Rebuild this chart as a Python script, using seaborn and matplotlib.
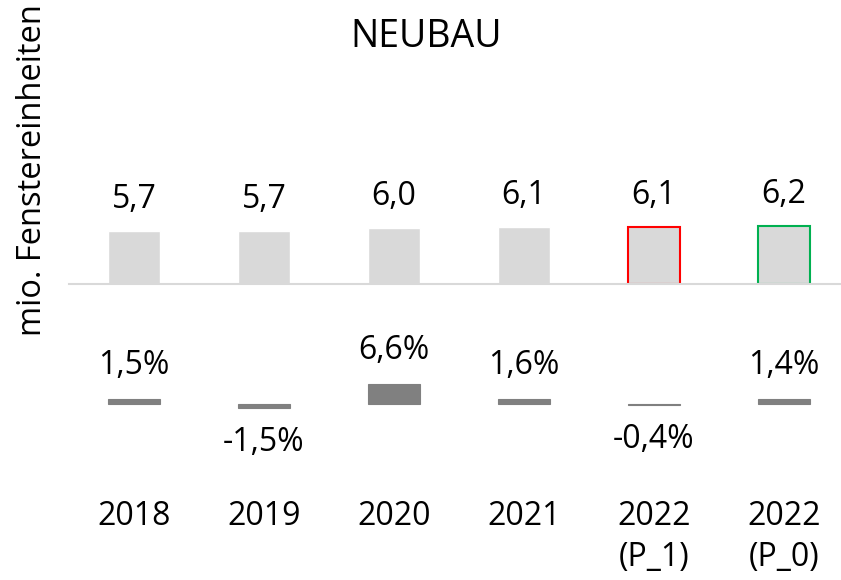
import numpy as np
import pandas as pd
import seaborn as sns
from matplotlib import pyplot as plt

# Neubau volumes (mio. window units) and growth rates (%)
years = ["2018", "2019", "2020", "2021", "2022\n(P_1)", "2022\n(P_0)"]
volume = [5.7, 5.7, 6.0, 6.1, 6.1, 6.2]
growth = [1.5, -1.5, 6.6, 1.6, -0.4, 1.4]


def de_fmt(v, pct=False):
    s = f"{v:.1f}".replace(".", ",")
    return s + "%" if pct else s


sns.set_style("white")
plt.rcParams["font.family"] = ["Open Sans", "DejaVu Sans"]
plt.rcParams["text.color"] = "black"
plt.rcParams["xtick.color"] = "black"

W, H = 841, 580
fig = plt.figure(figsize=(W / 100, H / 100), dpi=100)


def px_axes(left, top, width, height):
    return fig.add_axes([left / W, 1 - (top + height) / H, width / W, height / H])


df = pd.DataFrame({"Jahr": years, "Volumen": volume, "Wachstum": growth})

# upper panel: volumes
ax_top = px_axes(69, 284 - 130.2, 780, 130.2)
sns.barplot(data=df, x="Jahr", y="Volumen", color="#d9d9d9", width=0.4,
            saturation=1, ax=ax_top)
ax_top.set_xlim(-0.5, 5.5)
ax_top.set_ylim(0, 14)
for p, ec in zip(ax_top.patches[4:], ["#ff0000", "#00b050"]):
    p.set_edgecolor(ec)
    p.set_linewidth(1.5)
for i, v in enumerate(volume):
    ax_top.annotate(de_fmt(v), (i, v), xytext=(0, 23), textcoords="offset points",
                    ha="center", va="center", fontsize=23)
for s in ["top", "left", "right"]:
    ax_top.spines[s].set_visible(False)
ax_top.spines["bottom"].set_color("#d9d9d9")
ax_top.spines["bottom"].set_linewidth(1.5)
ax_top.set_xticks([])
ax_top.set_yticks([])
ax_top.set_xlabel("")
ax_top.set_ylabel("")

# lower panel: growth rates
ax_bot = px_axes(69, 403.5 - 36, 780, 60)
sns.barplot(data=df, x="Jahr", y="Wachstum", color="#808080", width=0.4,
            saturation=1, edgecolor="#808080", linewidth=0.8, ax=ax_bot)
ax_bot.set_xlim(-0.5, 5.5)
ax_bot.set_ylim(-8, 12)
for i, v in enumerate(growth):
    off = 24 if v >= 0 else -25
    ax_bot.annotate(de_fmt(v, pct=True), (i, v), xytext=(0, off),
                    textcoords="offset points", ha="center", va="center", fontsize=23)
for s in ax_bot.spines.values():
    s.set_visible(False)
ax_bot.set_yticks([])
ax_bot.set_xticks(range(len(years)))
ax_bot.set_xticklabels(years, fontsize=23)
for lbl in ax_bot.get_xticklabels():
    lbl.set_linespacing(1.35)
ax_bot.tick_params(axis="x", length=0, pad=52)
ax_bot.set_xlabel("")
ax_bot.set_ylabel("")

fig.text(426 / W, 1 - 37 / H, "NEUBAU", ha="center", va="center", fontsize=27)
fig.text(33 / W, 1 - 170 / H, "mio. Fenstereinheiten", rotation=90,
         ha="center", va="center", fontsize=23.5)

fig.savefig("out.png", dpi=100)
